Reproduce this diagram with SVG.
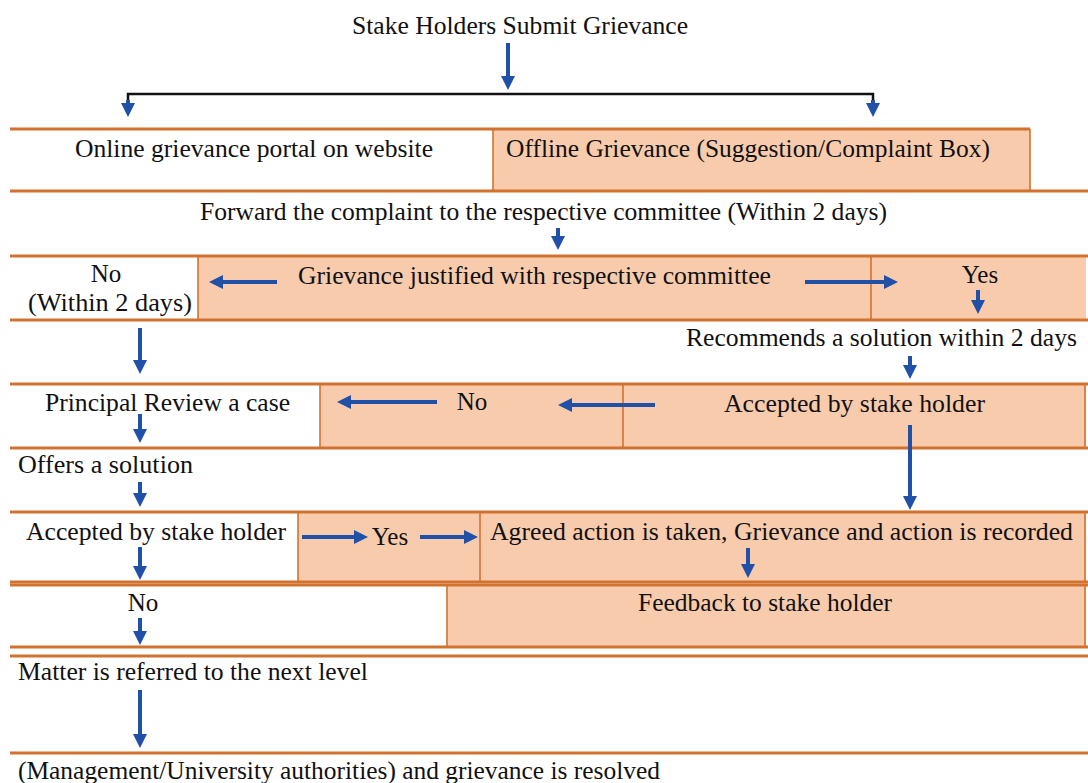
<svg xmlns="http://www.w3.org/2000/svg" width="1088" height="783" viewBox="0 0 1088 783">
<style>
  text { font-family: "Liberation Serif", "DejaVu Serif", "Times New Roman", Times, serif; font-size: 25px; fill: #111; }
  .c { text-anchor: middle; }
  .hl { stroke: #D2722F; stroke-width: 3; fill: none; }
  .vl { stroke: #D2722F; stroke-width: 1.6; fill: none; }
  .fill { fill: #F8CBAD; stroke: none; }
  .arr { stroke: #2150A8; stroke-width: 4; fill: none; marker-end: url(#ah); }
</style>
<defs>
  <marker id="ah" viewBox="0 0 14 14" markerWidth="14" markerHeight="14" markerUnits="userSpaceOnUse" refX="5" refY="7" orient="auto">
    <path d="M0,0 L14,7 L0,14 z" fill="#2150A8"/>
  </marker>
</defs>
<rect width="1088" height="783" fill="#ffffff"/>

<g font-family="Liberation Serif, DejaVu Serif, serif">
<g id="start">
  <text x="352" y="34" textLength="336" lengthAdjust="spacingAndGlyphs">Stake Holders Submit Grievance</text>
</g>

<g id="row1">
  <rect class="fill" x="493" y="129" width="537" height="62"/>
  <line class="hl" x1="10" y1="129" x2="1030" y2="129"/>
  <line class="hl" x1="10" y1="191" x2="1088" y2="191"/>
  <line class="vl" x1="493" y1="129" x2="493" y2="191"/>
  <line class="vl" x1="1030" y1="129" x2="1030" y2="191"/>
  <text x="75" y="157" textLength="358" lengthAdjust="spacingAndGlyphs">Online grievance portal on website</text>
  <text x="506" y="157" textLength="484" lengthAdjust="spacingAndGlyphs">Offline Grievance (Suggestion/Complaint Box)</text>
</g>

<g id="forward">
  <text x="200" y="220" textLength="687" lengthAdjust="spacingAndGlyphs">Forward the complaint to the respective committee (Within 2 days)</text>
</g>

<g id="row2">
  <rect class="fill" x="198" y="256" width="888" height="64"/>
  <line class="hl" x1="10" y1="256" x2="1088" y2="256"/>
  <line class="hl" x1="10" y1="320" x2="1088" y2="320"/>
  <line class="vl" x1="198" y1="256" x2="198" y2="320"/>
  <line class="vl" x1="871" y1="256" x2="871" y2="320"/>
  <text class="c" x="106" y="282">No</text>
  <text x="28" y="311" textLength="164" lengthAdjust="spacingAndGlyphs">(Within 2 days)</text>
  <text x="298" y="284" textLength="473" lengthAdjust="spacingAndGlyphs">Grievance justified with respective committee</text>
  <text class="c" x="980" y="283">Yes</text>
</g>

<g id="recommend">
  <text x="686" y="346" textLength="391" lengthAdjust="spacingAndGlyphs">Recommends a solution within 2 days</text>
</g>

<g id="row3">
  <rect class="fill" x="320" y="384" width="766" height="64"/>
  <line class="hl" x1="10" y1="384" x2="1088" y2="384"/>
  <line class="hl" x1="10" y1="448" x2="1088" y2="448"/>
  <line class="vl" x1="320" y1="384" x2="320" y2="448"/>
  <line class="vl" x1="623" y1="384" x2="623" y2="448"/>
  <line class="vl" x1="1085" y1="384" x2="1085" y2="448"/>
  <text x="45" y="411" textLength="245" lengthAdjust="spacingAndGlyphs">Principal Review a case</text>
  <text class="c" x="472" y="410">No</text>
  <text x="724" y="412" textLength="261" lengthAdjust="spacingAndGlyphs">Accepted by stake holder</text>
</g>

<g id="offers">
  <text x="18" y="473" textLength="175" lengthAdjust="spacingAndGlyphs">Offers a solution</text>
</g>

<g id="row4">
  <rect class="fill" x="298" y="512" width="788" height="70"/>
  <line class="hl" x1="10" y1="512" x2="1088" y2="512"/>
  <line class="hl" x1="10" y1="582" x2="1088" y2="582"/>
  <line class="vl" x1="298" y1="512" x2="298" y2="582"/>
  <line class="vl" x1="480" y1="512" x2="480" y2="582"/>
  <line class="vl" x1="1085" y1="512" x2="1085" y2="582"/>
  <text x="26" y="540" textLength="260" lengthAdjust="spacingAndGlyphs">Accepted by stake holder</text>
  <text class="c" x="390" y="545">Yes</text>
  <text x="490" y="540" textLength="583" lengthAdjust="spacingAndGlyphs">Agreed action is taken, Grievance and action is recorded</text>
</g>

<g id="row5">
  <rect class="fill" x="447" y="585" width="639" height="62"/>
  <line class="hl" x1="10" y1="585" x2="1088" y2="585"/>
  <line class="hl" x1="10" y1="647" x2="1088" y2="647"/>
  <line class="vl" x1="447" y1="585" x2="447" y2="647"/>
  <line class="vl" x1="1085" y1="585" x2="1085" y2="647"/>
  <text class="c" x="143" y="611">No</text>
  <text x="638" y="611" textLength="254" lengthAdjust="spacingAndGlyphs">Feedback to stake holder</text>
</g>

<g id="next-level">
  <line class="hl" x1="10" y1="656" x2="1088" y2="656"/>
  <text x="18" y="680" textLength="350" lengthAdjust="spacingAndGlyphs">Matter is referred to the next level</text>
</g>

<g id="resolved">
  <line class="hl" x1="10" y1="753" x2="1088" y2="753"/>
  <text x="18" y="779" textLength="642" lengthAdjust="spacingAndGlyphs">(Management/University authorities) and grievance is resolved</text>
</g>
</g>

<g id="connectors">
  <polyline points="128,101 128,94 873,94 873,101" stroke="#111" stroke-width="2.5" fill="none"/>
  <line class="arr" x1="508" y1="43" x2="508" y2="81"/>
  <line class="arr" x1="128" y1="100" x2="128" y2="108"/>
  <line class="arr" x1="873" y1="100" x2="873" y2="108"/>
  <line class="arr" x1="558" y1="228" x2="558" y2="241"/>
  <line class="arr" x1="277" y1="282" x2="218" y2="282"/>
  <line class="arr" x1="805" y1="282" x2="889" y2="282"/>
  <line class="arr" x1="978" y1="290" x2="978" y2="305"/>
  <line class="arr" x1="140" y1="328" x2="140" y2="365"/>
  <line class="arr" x1="910" y1="356" x2="910" y2="370"/>
  <line class="arr" x1="437" y1="402" x2="346" y2="402"/>
  <line class="arr" x1="655" y1="405" x2="567" y2="405"/>
  <line class="arr" x1="140" y1="414" x2="140" y2="434"/>
  <line class="arr" x1="910" y1="425" x2="910" y2="501"/>
  <line class="arr" x1="140" y1="482" x2="140" y2="498"/>
  <line class="arr" x1="302" y1="537" x2="359" y2="537"/>
  <line class="arr" x1="420" y1="537" x2="469" y2="537"/>
  <line class="arr" x1="140" y1="547" x2="140" y2="571"/>
  <line class="arr" x1="748" y1="548" x2="748" y2="569"/>
  <line class="arr" x1="140" y1="618" x2="140" y2="636"/>
  <line class="arr" x1="140" y1="690" x2="140" y2="739"/>
</g>
</svg>
